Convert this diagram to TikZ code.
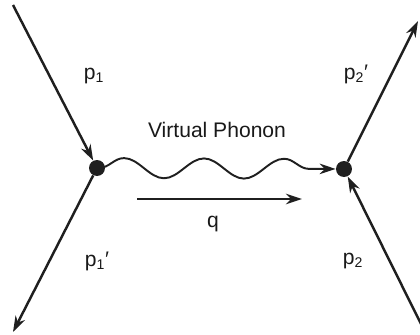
\documentclass[tikz,border=0pt]{standalone}
\usepackage{fontspec}
\setmainfont{Liberation Sans}
\usetikzlibrary{arrows.meta,decorations.pathmorphing}
\tikzset{
  ptcl/.style={-{Stealth[length=3.2mm,width=2.1mm]}, line width=1.4pt, black!88},
  phononln/.style={ptcl, decorate,
    decoration={snake, segment length=1.6cm, amplitude=0.2cm, post length=1.8mm}},
  vtx/.style={circle, fill=black!88, inner sep=0pt, minimum size=0.32cm},
  lbl/.style={font=\fontsize{12}{14}\selectfont, black!90},
}

\begin{document}
\begin{tikzpicture}[x=0.02cm, y=-0.02cm]
  \useasboundingbox (0,0) rectangle (420,335);
  % --- vertices
  \node[vtx] (v1) at (97,168) {};
  \node[vtx] (v2) at (344,169) {};
  % --- free ends of the particle lines
  \coordinate (in1) at (13,5);
  \coordinate (out1) at (13,332);
  \coordinate (out2) at (418,21);
  \coordinate (in2) at (421,324);
  \coordinate (w0) at (99,168);
  \coordinate (q0) at (137,199);
  \coordinate (q1) at (302,199);
  % particle lines
  \draw[ptcl] (in1) -- (v1);
  \draw[ptcl] (v1) -- (out1);
  \draw[ptcl] (v2) -- (out2);
  \draw[ptcl] (in2) -- (v2);
  % exchanged phonon and its momentum
  \draw[phononln, line width=1.1pt] (w0) -- (v2);
  \draw[ptcl] (q0) -- (q1);
  % labels
  \node[lbl] (lp1) at (94,76) {p\textsubscript{1}};
  \node[lbl] (lp1s) at (97,261) {p\textsubscript{1}′};
  \node[lbl] (lp2) at (353,261) {p\textsubscript{2}};
  \node[lbl] (lp2s) at (356,74) {p\textsubscript{2}′};
  \node[lbl] (lvp) at (217,130) {Virtual Phonon};
  \node[lbl] (lq) at (213,224) {q};
\end{tikzpicture}
\end{document}
